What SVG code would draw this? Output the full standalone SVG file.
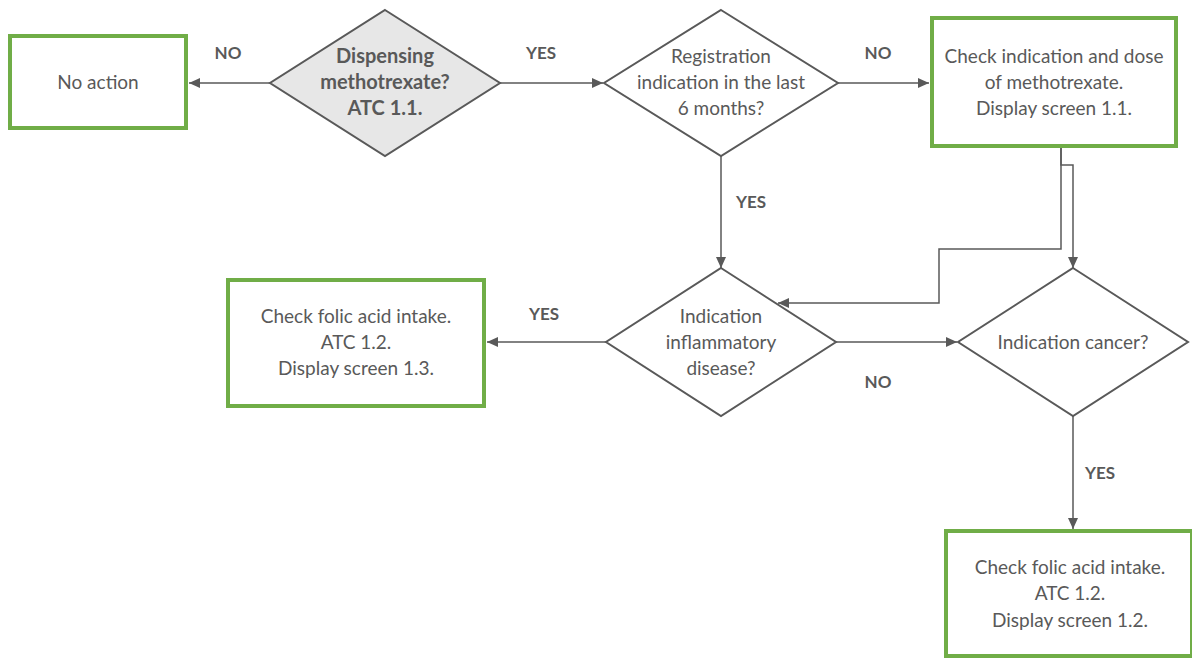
<svg xmlns="http://www.w3.org/2000/svg" width="1192" height="658" viewBox="0 0 1192 658">
<style>
.box{fill:#fff;stroke:#70ad47;stroke-width:4}
.dia{fill:#fff;stroke:#595959;stroke-width:2}
.dia1{fill:#e7e7e7;stroke:#595959;stroke-width:2}
.t{font-family:Lato,"Liberation Sans",sans-serif;font-size:19px;fill:#595959;text-anchor:middle}
.tb{font-family:Lato,"Liberation Sans",sans-serif;font-size:20px;fill:#595959;text-anchor:middle;font-weight:bold}
.lab{font-family:Lato,"Liberation Sans",sans-serif;font-size:17px;fill:#595959;text-anchor:middle;font-weight:bold}
.c{fill:none;stroke:#595959;stroke-width:1.5}
</style>
<defs>
<marker id="ah" markerUnits="userSpaceOnUse" markerWidth="12" markerHeight="12" viewBox="0 0 12 12" refX="11" refY="6" orient="auto">
<path d="M0,1 L11,6 L0,11 Z" fill="#595959"/>
</marker>
</defs>
<g id="connectors">
<line class="c" x1="270" y1="83" x2="189" y2="83" marker-end="url(#ah)"/>
<line class="c" x1="500" y1="83" x2="603" y2="83" marker-end="url(#ah)"/>
<line class="c" x1="838" y1="83" x2="929" y2="83" marker-end="url(#ah)"/>
<line class="c" x1="721" y1="156" x2="721" y2="268" marker-end="url(#ah)"/>
<polyline class="c" points="1061,147 1061,165 1073,165 1073,268" marker-end="url(#ah)"/>
<polyline class="c" points="1061,147 1061,249 939,249 939,303 778,303" marker-end="url(#ah)"/>
<line class="c" x1="606" y1="342" x2="487" y2="342" marker-end="url(#ah)"/>
<line class="c" x1="836" y1="342" x2="957" y2="342" marker-end="url(#ah)"/>
<line class="c" x1="1073" y1="416" x2="1073" y2="529" marker-end="url(#ah)"/>
<text class="lab" x="228" y="59">NO</text>
<text class="lab" x="541" y="59">YES</text>
<text class="lab" x="878" y="59">NO</text>
<text class="lab" x="751" y="208">YES</text>
<text class="lab" x="544" y="320">YES</text>
<text class="lab" x="878" y="388">NO</text>
<text class="lab" x="1100" y="479">YES</text>
</g>
<g id="no-action">
<rect class="box" x="10" y="36" width="176" height="92"/>
<text class="t" x="98" y="89">No action</text>
</g>
<g id="dispensing">
<polygon class="dia1" points="385,10 500,83 385,156 270,83"/>
<text class="tb" x="385" y="63">Dispensing</text>
<text class="tb" x="385" y="89">methotrexate?</text>
<text class="tb" x="385" y="115">ATC 1.1.</text>
</g>
<g id="registration">
<polygon class="dia" points="721,10 838,83 721,156 604,83"/>
<text class="t" x="721" y="63">Registration</text>
<text class="t" x="721" y="89">indication in the last</text>
<text class="t" x="721" y="115">6 months?</text>
</g>
<g id="check-indication">
<rect class="box" x="932" y="18" width="244" height="128"/>
<text class="t" x="1054" y="63">Check indication and dose</text>
<text class="t" x="1054" y="89">of methotrexate.</text>
<text class="t" x="1054" y="115">Display screen 1.1.</text>
</g>
<g id="inflammatory">
<polygon class="dia" points="721,268 836,342 721,416 606,342"/>
<text class="t" x="721" y="323">Indication</text>
<text class="t" x="721" y="349">inflammatory</text>
<text class="t" x="721" y="375">disease?</text>
</g>
<g id="folic-13">
<rect class="box" x="228" y="280" width="256" height="126"/>
<text class="t" x="356" y="323">Check folic acid intake.</text>
<text class="t" x="356" y="349">ATC 1.2.</text>
<text class="t" x="356" y="375">Display screen 1.3.</text>
</g>
<g id="cancer">
<polygon class="dia" points="1073,268 1188,342 1073,416 958,342"/>
<text class="t" x="1073" y="349">Indication cancer?</text>
</g>
<g id="folic-12">
<rect class="box" x="946" y="531" width="246" height="125"/>
<text class="t" x="1070" y="574">Check folic acid intake.</text>
<text class="t" x="1070" y="600">ATC 1.2.</text>
<text class="t" x="1070" y="627">Display screen 1.2.</text>
</g>
</svg>
